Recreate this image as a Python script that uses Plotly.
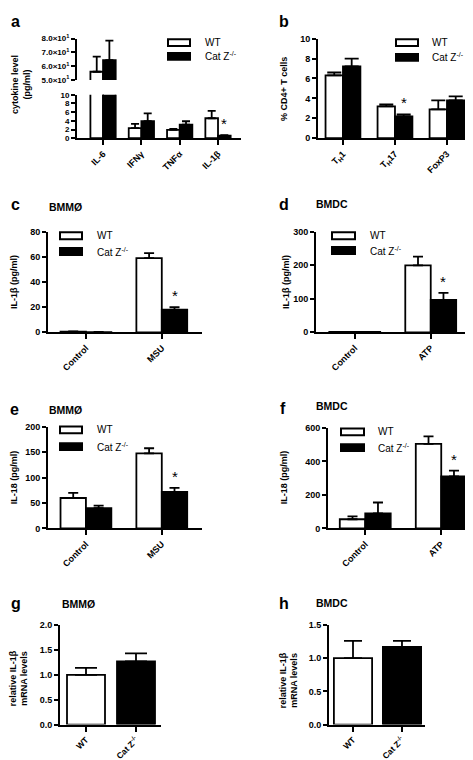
import plotly.graph_objects as go

W, H = 473, 760
FONT = "Liberation Sans"

# ---------------- data ----------------
groups = ["WT", "Cat Z<sup>-/-</sup>"]
fills = ["white", "black"]

a_cats = ["IL-6", "IFNγ", "TNFα", "IL-1β"]
a_wt = [56.0, 2.3, 1.9, 4.6]
a_wt_err = [11.0, 1.0, 0.25, 1.7]
a_ko = [64.5, 3.9, 3.1, 0.6]
a_ko_err = [14.0, 1.8, 0.8, 0.1]
a_sig = ["IL-1β"]

b_cats = ["T<sub>H</sub>1", "T<sub>H</sub>17", "FoxP3"]
b_wt = [6.3, 3.2, 2.9]
b_wt_err = [0.3, 0.2, 0.9]
b_ko = [7.2, 2.2, 3.8]
b_ko_err = [0.8, 0.2, 0.4]
b_sig = ["T<sub>H</sub>17"]

c_cats = ["Control", "MSU"]
c_wt = [0.5, 59.0]
c_wt_err = [0.2, 4.0]
c_ko = [0.2, 18.0]
c_ko_err = [0.1, 2.0]
c_sig = ["MSU"]

d_cats = ["Control", "ATP"]
d_wt = [1.0, 200.0]
d_wt_err = [0.5, 26.0]
d_ko = [1.0, 97.0]
d_ko_err = [0.5, 21.0]
d_sig = ["ATP"]

e_cats = ["Control", "MSU"]
e_wt = [60.0, 148.0]
e_wt_err = [10.0, 10.0]
e_ko = [40.0, 72.0]
e_ko_err = [5.0, 8.0]
e_sig = ["MSU"]

f_cats = ["Control", "ATP"]
f_wt = [55.0, 505.0]
f_wt_err = [17.0, 45.0]
f_ko = [90.0, 310.0]
f_ko_err = [65.0, 35.0]
f_sig = ["ATP"]

g_cats = ["WT", "Cat Z<sup>-/-</sup>"]
g_vals = [1.0, 1.27]
g_err = [0.14, 0.16]

h_cats = ["WT", "Cat Z<sup>-/-</sup>"]
h_vals = [1.0, 1.17]
h_err = [0.26, 0.09]

# ---------------- helpers ----------------
fig = go.Figure()


def X(px):
    return px / W


def Y(py):
    return 1 - py / H


def refs(ax):
    return ("x" if ax == 1 else f"x{ax}"), ("y" if ax == 1 else f"y{ax}")


def add_pair(ax, cats, wt, wt_err, ko, ko_err, w, cap, sig=None, star_dy=0):
    xa, ya = refs(ax)
    series = [(groups[0], wt, wt_err, fills[0], -w), (groups[1], ko, ko_err, fills[1], 0.0)]
    for name, vals, errs, fill, off in series:
        fig.add_trace(go.Bar(
            x=cats, y=vals, width=w, offset=off, name=name, showlegend=False,
            marker=dict(color=fill, line=dict(color="black", width=1.8)),
            error_y=dict(type="data", array=errs, arrayminus=[0] * len(errs),
                         symmetric=False, color="black", thickness=1.8, width=cap),
            xaxis=xa, yaxis=ya))
    if sig:
        for s in sig:
            i = cats.index(s)
            fig.add_annotation(x=i + w / 2, y=ko[i] + ko_err[i], xref=xa, yref=ya,
                               text="*", showarrow=False, yanchor="bottom", yshift=star_dy,
                               font=dict(size=15, family=FONT, color="black"))


def add_single(ax, cats, vals, errs, w, cap):
    xa, ya = refs(ax)
    fig.add_trace(go.Bar(
        x=cats, y=vals, width=w, offset=-w / 2, showlegend=False,
        marker=dict(color=fills, line=dict(color="black", width=1.8)),
        error_y=dict(type="data", array=errs, arrayminus=[0] * len(errs),
                     symmetric=False, color="black", thickness=1.8, width=cap),
        xaxis=xa, yaxis=ya))


def axes(ax, xdom, ydom, xrange, yrange, dtick=None, tickvals=None, ticktext=None,
         tickformat=None, show_x=True, yfs=9, xfs=9):
    xn = "xaxis" if ax == 1 else f"xaxis{ax}"
    yn = "yaxis" if ax == 1 else f"yaxis{ax}"
    xa, ya = refs(ax)
    fig.update_layout(**{
        xn: dict(domain=[X(xdom[0]), X(xdom[1])], range=xrange, anchor=ya, type="category",
                 showline=show_x, linewidth=2, linecolor="black",
                 ticks="outside" if show_x else "", ticklen=5, tickwidth=2, tickcolor="black",
                 tickangle=-45, showticklabels=show_x, showgrid=False, zeroline=False,
                 tickfont=dict(family=FONT, size=xfs, color="black", weight="bold"),
                 fixedrange=True),
        yn: dict(domain=[Y(ydom[1]), Y(ydom[0])], range=yrange, anchor=xa,
                 showline=True, linewidth=2, linecolor="black",
                 ticks="outside", ticklen=4, tickwidth=2, tickcolor="black",
                 dtick=dtick, tickvals=tickvals, ticktext=ticktext, tickformat=tickformat,
                 showgrid=False, zeroline=False,
                 tickfont=dict(family=FONT, size=yfs, color="black", weight="bold"),
                 fixedrange=True),
    })


def text(px, py, t, size=9, bold=True, angle=0, xanchor="left", yanchor="middle"):
    fig.add_annotation(x=X(px), y=Y(py), xref="paper", yref="paper", text=t, showarrow=False,
                       textangle=angle, xanchor=xanchor, yanchor=yanchor,
                       font=dict(family=FONT, size=size, color="black",
                                 weight="bold" if bold else "normal"))


def legend(x0, x1, y_wt, y_ko, tx, h=7):
    for yc, fill, name in [(y_wt, fills[0], groups[0]), (y_ko, fills[1], groups[1])]:
        fig.add_shape(type="rect", xref="paper", yref="paper",
                      x0=X(x0), x1=X(x1), y0=Y(yc + h / 2), y1=Y(yc - h / 2),
                      fillcolor=fill, line=dict(color="black", width=2))
        text(tx, yc, name, size=10, bold=False)


# ---------------- panel a (broken axis) ----------------
add_pair(1, a_cats, a_wt, a_wt_err, a_ko, a_ko_err, 0.33, 4, sig=a_sig, star_dy=1)
add_pair(2, a_cats, a_wt, a_wt_err, a_ko, a_ko_err, 0.33, 4)
axes(1, (69, 233), (82, 126), [-0.68, 3.6], [0, 10], dtick=2, yfs=8, xfs=9)
axes(2, (69, 233), (25, 67), [-0.68, 3.6], [50, 80], tickvals=[50, 60, 70, 80],
     ticktext=["5.0×10<sup>1</sup>", "6.0×10<sup>1</sup>", "7.0×10<sup>1</sup>", "8.0×10<sup>1</sup>"],
     show_x=False, yfs=8)
text(1, 8, "a", size=16)
text(13, 72, "cytokine level<br>(pg/ml)", size=9, angle=-90, xanchor="center")
legend(160, 182, 29, 43, 195)

# ---------------- panel b ----------------
add_pair(3, b_cats, b_wt, b_wt_err, b_ko, b_ko_err, 0.335, 7, sig=b_sig, star_dy=1)
axes(3, (310, 465), (25, 126), [-0.48, 2.5], [0, 10], dtick=2)
text(269, 8, "b", size=16)
text(276, 76, "% CD4+ T cells", size=9, angle=-90, xanchor="center")
legend(388, 410, 29, 44, 422)

# ---------------- panel c ----------------
add_pair(4, c_cats, c_wt, c_wt_err, c_ko, c_ko_err, 0.335, 5, sig=c_sig, star_dy=1)
axes(4, (40, 194), (221, 323), [-0.5, 1.53], [0, 80], dtick=20)
text(1, 193, "c", size=16)
text(39, 196, "BMMØ", size=10.5)
text(6, 272, "IL-1β (pg/ml)", size=9, angle=-90, xanchor="center")
legend(52, 74, 225, 241, 87)

# ---------------- panel d ----------------
add_pair(5, d_cats, d_wt, d_wt_err, d_ko, d_ko_err, 0.335, 5, sig=d_sig, star_dy=1)
axes(5, (308, 463), (221, 323), [-0.51, 1.53], [0, 300], dtick=100)
text(269, 193, "d", size=16)
text(306, 193, "BMDC", size=10.5)
text(278, 272, "IL-1β (pg/ml)", size=9, angle=-90, xanchor="center")
legend(324, 347, 225, 240, 360)

# ---------------- panel e ----------------
add_pair(6, e_cats, e_wt, e_wt_err, e_ko, e_ko_err, 0.335, 5, sig=e_sig, star_dy=1)
axes(6, (40, 194), (419, 522), [-0.5, 1.53], [0, 200], dtick=50)
text(0, 401, "e", size=16)
text(39, 402, "BMMØ", size=10.5)
text(6, 470, "IL-18 (pg/ml)", size=9, angle=-90, xanchor="center")
legend(52, 74, 422, 439, 87)

# ---------------- panel f ----------------
add_pair(7, f_cats, f_wt, f_wt_err, f_ko, f_ko_err, 0.335, 5, sig=f_sig, star_dy=1)
axes(7, (320, 472), (420, 522), [-0.49, 1.51], [0, 600], dtick=200)
text(270, 400, "f", size=16)
text(306, 398, "BMDC", size=10.5)
text(276, 470, "IL-18 (pg/ml)", size=9, angle=-90, xanchor="center")
legend(333, 356, 424, 440, 368)

# ---------------- panel g ----------------
add_single(8, g_cats, g_vals, g_err, 0.76, 11)
axes(8, (52, 153), (620, 721), [-0.52, 1.5], [0, 2], dtick=0.5, tickformat=".1f", xfs=8.5)
text(1, 598, "g", size=16)
text(52, 599, "BMMØ", size=10.5)
text(11, 674, "relative IL-1β<br>mRNA levels", size=9, angle=-90, xanchor="center")

# ---------------- panel h ----------------
add_single(9, h_cats, h_vals, h_err, 0.78, 9)
axes(9, (321, 417), (620, 721), [-0.49, 1.47], [0, 1.5], dtick=0.5, tickformat=".1f", xfs=8.5)
text(269, 598, "h", size=16)
text(306, 598, "BMDC", size=10.5)
text(281, 676, "relative IL-1β<br>mRNA levels", size=9, angle=-90, xanchor="center")

fig.update_layout(width=W, height=H, margin=dict(l=0, r=0, t=0, b=0),
                  paper_bgcolor="white", plot_bgcolor="white", barmode="overlay",
                  showlegend=False, font=dict(family=FONT, color="black"))

fig.write_html("out.html", config={"displayModeBar": False})
